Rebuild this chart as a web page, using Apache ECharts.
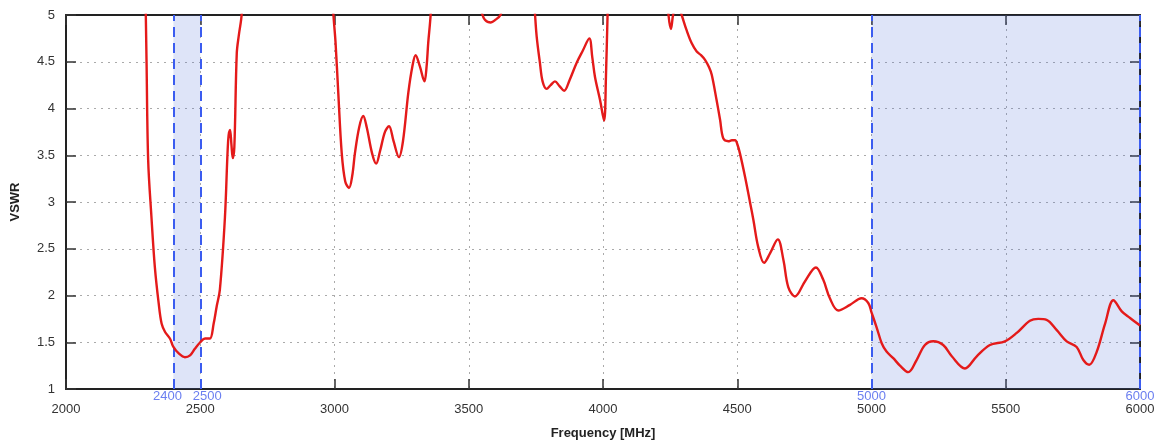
<!DOCTYPE html>
<html>
<head>
<meta charset="utf-8">
<script src="https://cdn.jsdelivr.net/npm/echarts@6/dist/echarts.min.js"></script>
<style>html,body{margin:0;padding:0;background:#fff}#c{width:1167px;height:445px}</style>
</head>
<body>
<div id="c"></div>
<script>
// Frequency (MHz) sample points
const freq = [2294, 2300, 2306, 2318, 2331, 2345, 2356, 2369, 2387, 2400, 2420, 2443, 2462, 2480, 2500, 2518, 2536, 2550, 2561, 2573, 2592, 2604, 2611, 2616, 2621, 2627, 2636, 2644, 2654, 2664,
  2980, 2996, 3004, 3014, 3027, 3040, 3054, 3066, 3076, 3092, 3107, 3120, 3140, 3155, 3170, 3188, 3203, 3220, 3240, 3255, 3275, 3290, 3302, 3318, 3335, 3343, 3349, 3358, 3368,
  3536, 3548, 3560, 3582, 3600, 3618, 3632,
  3738, 3747, 3753, 3765, 3775, 3790, 3805, 3821, 3838, 3855, 3875, 3902, 3925, 3949, 3960, 3970, 3989, 4004, 4011, 4017, 4024,
  4232, 4244, 4253, 4261, 4275, 4293, 4311, 4330, 4349, 4365, 4380, 4395, 4405, 4423, 4436, 4448, 4467, 4480, 4492, 4500, 4510, 4529, 4548, 4560, 4578, 4600, 4622, 4651, 4672, 4690, 4715, 4752, 4793, 4820, 4845, 4876, 4920, 4963, 4988, 5000, 5019, 5038, 5056, 5081, 5106, 5137, 5168, 5199, 5230, 5267, 5299, 5348, 5392, 5441, 5497, 5541, 5590, 5621, 5652, 5690, 5727, 5764, 5789, 5811, 5839, 5870, 5901, 5932, 5963, 6000];
// VSWR values (values above 5 are off-scale, clipped at the top)
const vswr = [5.6, 4.5, 3.45, 2.85, 2.30, 1.92, 1.70, 1.61, 1.54, 1.45, 1.38, 1.34, 1.36, 1.43, 1.50, 1.54, 1.54, 1.70, 1.88, 2.06, 2.84, 3.66, 3.77, 3.62, 3.47, 3.59, 4.59, 4.79, 5.0, 5.7,
  5.7, 5.0, 4.70, 4.17, 3.52, 3.22, 3.15, 3.28, 3.52, 3.80, 3.92, 3.80, 3.52, 3.41, 3.55, 3.75, 3.81, 3.65, 3.48, 3.65, 4.17, 4.45, 4.57, 4.45, 4.29, 4.45, 4.70, 5.0, 5.6,
  5.2, 5.03, 4.95, 4.92, 4.95, 5.0, 5.15,
  5.4, 5.0, 4.77, 4.49, 4.29, 4.21, 4.25, 4.29, 4.24, 4.19, 4.30, 4.49, 4.62, 4.75, 4.55, 4.34, 4.09, 3.87, 4.34, 5.0, 5.6,
  5.5, 5.0, 4.85, 5.0, 5.15, 5.0, 4.84, 4.70, 4.61, 4.57, 4.52, 4.44, 4.36, 4.09, 3.88, 3.68, 3.65, 3.66, 3.66, 3.62, 3.52, 3.27, 2.99, 2.81, 2.52, 2.35, 2.45, 2.60, 2.38, 2.09, 1.99, 2.15, 2.30, 2.17, 1.97, 1.84, 1.90, 1.97, 1.92, 1.82, 1.66, 1.49, 1.40, 1.33, 1.25, 1.18, 1.31, 1.47, 1.51, 1.47, 1.35, 1.22, 1.35, 1.47, 1.51, 1.60, 1.73, 1.75, 1.74, 1.63, 1.51, 1.45, 1.31, 1.26, 1.40, 1.70, 1.95, 1.83, 1.76, 1.68];
// Shaded bands and their marker lines
const bands = [[2400, 2500], [5000, 6000]];
const bandLines = [2400, 2500, 5000, 6000];
const bandLabelShift = [-6, 7, 0, 0];
const xTicks = {min: 2000, max: 6000, step: 500};
const yTicks = {min: 1, max: 5, step: 0.5};

const font = 'Liberation Sans';
const data = freq.map((f, i) => [f, vswr[i]]);
const chart = echarts.init(document.getElementById('c'));
const tickStyle = {show: true, inside: true, length: 10, lineStyle: {color: '#333', width: 1.5}};
const axisLine = {show: true, lineStyle: {color: '#222', width: 2}};
const split = {show: true, lineStyle: {color: '#aaa', type: [2, 5], width: 1}};
chart.setOption({
  animation: false,
  grid: {left: 66, right: 27, top: 15, bottom: 56, containLabel: false, outerBoundsMode: 'none'},
  xAxis: [{
    type: 'value', min: xTicks.min, max: xTicks.max, interval: xTicks.step, position: 'bottom',
    axisLine, axisTick: tickStyle, splitLine: split,
    axisLabel: {color: '#333', fontFamily: font, fontSize: 13, margin: 14, formatter: v => String(v)},
    name: 'Frequency [MHz]', nameLocation: 'middle', nameGap: 38,
    nameTextStyle: {color: '#222', fontFamily: font, fontSize: 13, fontWeight: 'bold'}
  }, {
    type: 'value', min: xTicks.min, max: xTicks.max, interval: xTicks.step, position: 'top',
    axisLine, axisTick: tickStyle, splitLine: {show: false}, axisLabel: {show: false}
  }],
  yAxis: [{
    type: 'value', min: yTicks.min, max: yTicks.max, interval: yTicks.step, position: 'left',
    axisLine, axisTick: tickStyle, splitLine: split,
    axisLabel: {color: '#333', fontFamily: font, fontSize: 13, margin: 11, formatter: v => String(v)},
    name: 'VSWR', nameLocation: 'middle', nameGap: 44,
    nameTextStyle: {color: '#222', fontFamily: font, fontSize: 13, fontWeight: 'bold'}
  }, {
    type: 'value', min: yTicks.min, max: yTicks.max, interval: yTicks.step, position: 'right',
    axisLine, axisTick: tickStyle, splitLine: {show: false}, axisLabel: {show: false}
  }],
  series: [{
    type: 'line', data, smooth: 0.35, symbol: 'none', clip: true, z: 5,
    lineStyle: {color: '#e41a1a', width: 2.4},
    markArea: {
      silent: true,
      itemStyle: {color: 'rgba(70,105,215,0.18)'},
      data: bands.map(b => [{xAxis: b[0]}, {xAxis: b[1]}])
    },
    markLine: {
      silent: true, symbol: 'none',
      lineStyle: {color: '#3b5cf0', type: [10, 6], width: 2},
      label: {position: 'start', distance: 1, color: '#6b7ff0', fontFamily: font, fontSize: 13},
      data: bandLines.map((x, i) => ({xAxis: x, label: {offset: [bandLabelShift[i], 0], formatter: String(x)}}))
    }
  }]
});
</script>
</body>
</html>
